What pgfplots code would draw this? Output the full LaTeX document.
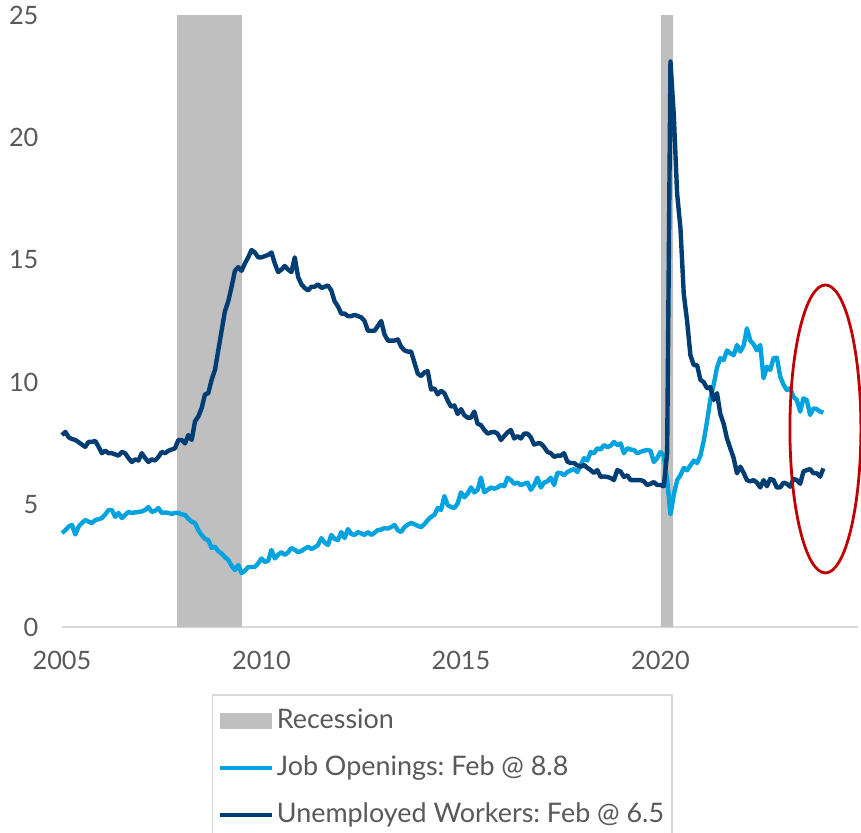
\documentclass[border=0pt]{standalone}
\usepackage{fontspec}
\setmainfont{Lato}
\usepackage{pgfplots}
\pgfplotsset{compat=1.18}
\frenchspacing
\definecolor{jo}{RGB}{0,163,224}
\definecolor{uw}{RGB}{0,61,115}
\definecolor{rec}{RGB}{191,191,191}
\definecolor{txt}{RGB}{89,89,89}
\definecolor{axl}{RGB}{217,217,217}
\definecolor{ell}{RGB}{192,0,0}
\pgfplotsset{
  lineleg/.style={legend image code/.code={\draw[##1] (0bp,0bp) -- (26bp,0bp);}},
  recleg/.style={legend image code/.code={\fill[rec] (0bp,-4bp) rectangle (26bp,4bp);}},
}
\begin{document}
\begin{tikzpicture}
\begin{axis}[
  at={(0,0)}, anchor=south west,
  scale only axis, width=398bp, height=306bp,
  xmin=0, xmax=239.4, ymin=0, ymax=25,
  axis x line*=bottom, axis y line*=left,
  y axis line style={draw=none},
  x axis line style={draw=axl, line width=0.75bp, -},
  xtick={0,60,120,180}, xticklabels={2005,2010,2015,2020},
  ytick={0,5,10,15,20,25},
  major tick length=0pt,
  tick label style={font=\fontsize{12.7}{14}\selectfont, text=txt},
  /pgf/number format/assume math mode=true,
  yticklabel style={xshift=-8.3bp},
  xticklabel style={yshift=-8.8bp},
  clip=false,
  legend cell align=left,
  legend style={at={(0.1881,-0.1095)}, anchor=north west,
    draw=axl, line width=0.75bp, fill=white,
    font=\fontsize{13.5}{15}\selectfont\frenchspacing, text=txt,
    inner xsep=2.75bp, inner ysep=7.0bp, row sep=11.3bp,
    nodes={inner xsep=1.25bp, inner ysep=0bp, text height=9.7bp, text depth=2.5bp}},
]
\addplot[fill=rec, draw=none, recleg]
  coordinates {(34.6,0) (34.6,25) (54.1,25) (54.1,0)} \closedcycle;
\addlegendentry{Recession}
\addplot[fill=rec, draw=none, forget plot]
  coordinates {(180.15,0) (180.15,25) (183.76,25) (183.76,0)} \closedcycle;

\addplot[jo, line width=2.2bp, line join=round, lineleg] coordinates {
(0,3.84)(1,3.95)(2,4.10)(3,4.17)(4,3.78)(5,4.10)(6,4.25)(7,4.37)(8,4.30)(9,4.25)(10,4.37)(11,4.40)
(12,4.45)(13,4.60)(14,4.78)(15,4.78)(16,4.50)(17,4.66)(18,4.45)(19,4.58)(20,4.70)(21,4.66)(22,4.68)(23,4.70)
(24,4.72)(25,4.78)(26,4.90)(27,4.70)(28,4.75)(29,4.86)(30,4.66)(31,4.68)(32,4.66)(33,4.62)(34,4.66)(35,4.66)
(36,4.60)(37,4.58)(38,4.42)(39,4.30)(40,4.25)(41,3.96)(42,3.76)(43,3.60)(44,3.55)(45,3.23)(46,3.28)(47,3.10)
(48,3.00)(49,2.85)(50,2.74)(51,2.50)(52,2.33)(53,2.53)(54,2.20)(55,2.30)(56,2.45)(57,2.45)(58,2.45)(59,2.60)
(60,2.80)(61,2.66)(62,2.70)(63,3.15)(64,2.80)(65,2.95)(66,3.06)(67,2.94)(68,3.05)(69,3.23)(70,3.15)(71,3.06)
(72,3.10)(73,3.20)(74,3.27)(75,3.19)(76,3.25)(77,3.35)(78,3.63)(79,3.45)(80,3.35)(81,3.76)(82,3.60)(83,3.55)
(84,3.88)(85,3.63)(86,4.00)(87,3.80)(88,3.76)(89,3.88)(90,3.82)(91,3.76)(92,3.88)(93,3.76)(94,3.85)(95,3.96)
(96,3.98)(97,4.04)(98,4.02)(99,4.08)(100,4.17)(101,3.95)(102,3.88)(103,4.08)(104,4.18)(105,4.25)(106,4.20)(107,4.13)
(108,4.08)(109,4.20)(110,4.37)(111,4.50)(112,4.58)(113,4.86)(114,4.78)(115,5.35)(116,4.98)(117,4.90)(118,4.86)(119,5.05)
(120,5.50)(121,5.30)(122,5.45)(123,5.70)(124,5.50)(125,5.60)(126,6.10)(127,5.50)(128,5.60)(129,5.70)(130,5.65)(131,5.70)
(132,5.80)(133,5.75)(134,6.10)(135,6.00)(136,5.85)(137,5.90)(138,5.80)(139,5.85)(140,5.90)(141,5.60)(142,5.80)(143,6.10)
(144,5.70)(145,5.90)(146,5.95)(147,6.10)(148,5.80)(149,6.30)(150,6.29)(151,6.20)(152,6.33)(153,6.40)(154,6.45)(155,6.33)
(156,6.62)(157,6.90)(158,6.80)(159,7.15)(160,7.10)(161,7.30)(162,7.25)(163,7.43)(164,7.35)(165,7.40)(166,7.56)(167,7.43)
(168,7.50)(169,7.10)(170,7.30)(171,7.25)(172,7.23)(173,7.10)(174,7.15)(175,7.20)(176,7.23)(177,7.20)(178,6.74)(179,6.90)
(180,7.15)(181,7.00)(182,6.00)(183,4.60)(184,5.40)(185,6.00)(186,6.20)(187,6.50)(188,6.40)(189,6.60)(190,6.80)(191,6.70)
(192,7.00)(193,7.60)(194,8.40)(195,9.30)(196,9.90)(197,10.60)(198,10.98)(199,10.90)(200,11.30)(201,11.18)(202,11.10)(203,11.52)
(204,11.25)(205,11.50)(206,12.20)(207,11.70)(208,11.55)(209,11.30)(210,11.52)(211,10.16)(212,10.63)(213,10.50)(214,10.98)(215,11.00)
(216,10.23)(217,9.90)(218,9.68)(219,9.75)(220,9.40)(221,9.27)(222,8.80)(223,9.34)(224,9.27)(225,8.66)(226,8.93)(227,8.90)
(228,8.80)(229,8.76)
};
\addlegendentry{Job Openings: Feb @ 8.8}

\addplot[uw, line width=2.2bp, line join=round, lineleg] coordinates {
(0,7.84)(1,7.97)(2,7.75)(3,7.68)(4,7.64)(5,7.55)(6,7.45)(7,7.36)(8,7.56)(9,7.56)(10,7.60)(11,7.36)
(12,7.10)(13,7.20)(14,7.10)(15,7.10)(16,7.05)(17,7.00)(18,7.15)(19,7.10)(20,6.90)(21,6.74)(22,6.85)(23,6.80)
(24,7.10)(25,6.90)(26,6.74)(27,6.85)(28,6.80)(29,6.95)(30,7.15)(31,7.10)(32,7.20)(33,7.25)(34,7.30)(35,7.64)
(36,7.64)(37,7.50)(38,7.84)(39,7.64)(40,8.40)(41,8.60)(42,8.94)(43,9.50)(44,9.55)(45,10.10)(46,10.50)(47,11.30)
(48,12.10)(49,12.90)(50,13.30)(51,13.90)(52,14.55)(53,14.70)(54,14.55)(55,14.85)(56,15.10)(57,15.40)(58,15.30)(59,15.10)
(60,15.10)(61,15.15)(62,15.20)(63,15.30)(64,14.85)(65,14.50)(66,14.60)(67,14.75)(68,14.60)(69,14.50)(70,15.10)(71,14.30)
(72,14.00)(73,13.85)(74,13.75)(75,13.90)(76,13.90)(77,14.00)(78,13.85)(79,13.90)(80,13.95)(81,13.75)(82,13.30)(83,13.10)
(84,12.80)(85,12.80)(86,12.70)(87,12.70)(88,12.75)(89,12.70)(90,12.65)(91,12.50)(92,12.10)(93,12.10)(94,12.10)(95,12.30)
(96,12.50)(97,11.95)(98,11.70)(99,11.70)(100,11.70)(101,11.75)(102,11.45)(103,11.30)(104,11.25)(105,11.25)(106,10.80)(107,10.35)
(108,10.25)(109,10.40)(110,10.45)(111,9.70)(112,9.75)(113,9.50)(114,9.65)(115,9.55)(116,9.25)(117,9.00)(118,9.05)(119,8.70)
(120,8.90)(121,8.65)(122,8.55)(123,8.55)(124,8.80)(125,8.30)(126,8.25)(127,8.05)(128,7.90)(129,7.95)(130,7.97)(131,7.90)
(132,7.64)(133,7.80)(134,7.95)(135,8.05)(136,7.70)(137,7.80)(138,7.70)(139,7.90)(140,7.90)(141,7.75)(142,7.45)(143,7.50)
(144,7.50)(145,7.35)(146,7.15)(147,7.10)(148,6.95)(149,7.00)(150,7.00)(151,7.10)(152,6.75)(153,6.70)(154,6.70)(155,6.60)
(156,6.55)(157,6.62)(158,6.50)(159,6.41)(160,6.29)(161,6.41)(162,6.13)(163,6.15)(164,6.13)(165,6.09)(166,6.00)(167,6.41)
(168,6.35)(169,6.13)(170,6.20)(171,6.00)(172,6.00)(173,6.00)(174,6.00)(175,5.95)(176,5.80)(177,5.85)(178,5.92)(179,5.80)
(180,5.80)(181,5.75)(182,7.10)(183,23.10)(184,20.90)(185,17.70)(186,16.30)(187,13.60)(188,12.50)(189,11.10)(190,10.70)(191,10.70)
(192,10.10)(193,10.00)(194,9.75)(195,9.80)(196,9.27)(197,9.55)(198,8.70)(199,8.30)(200,7.70)(201,7.30)(202,6.90)(203,6.28)
(204,6.55)(205,6.30)(206,6.00)(207,5.95)(208,6.00)(209,5.90)(210,5.70)(211,6.00)(212,5.75)(213,6.05)(214,6.00)(215,5.70)
(216,5.70)(217,5.90)(218,5.85)(219,5.73)(220,6.05)(221,6.00)(222,5.85)(223,6.35)(224,6.41)(225,6.45)(226,6.28)(227,6.28)
(228,6.14)(229,6.48)
};
\addlegendentry{Unemployed Workers: Feb @ 6.5}

\draw[ell, line width=1.4bp] (axis cs:229.6,8.09) ellipse [x radius=17.75bp, y radius=72bp];
\end{axis}
\pgfresetboundingbox
\path[use as bounding box] (-31bp,-103bp) rectangle (399.5bp,313.5bp);
\end{tikzpicture}
\end{document}
